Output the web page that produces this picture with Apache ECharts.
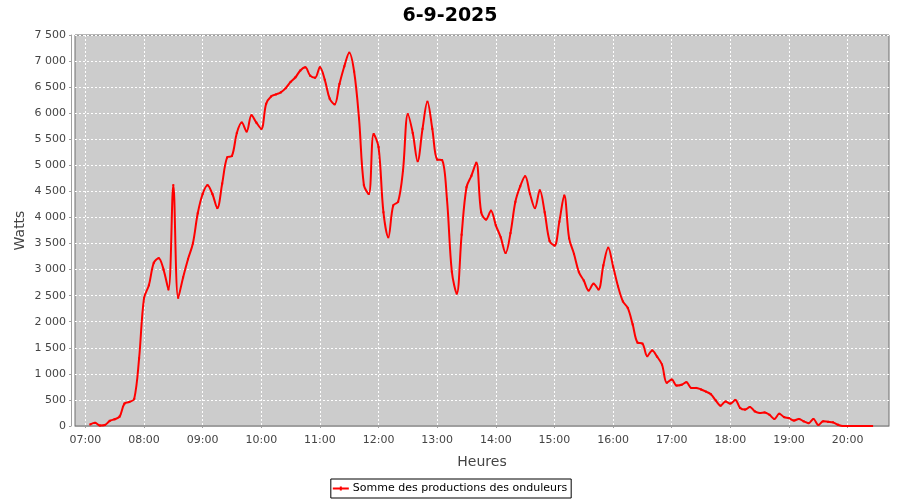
<!DOCTYPE html>
<html>
<head>
<meta charset="utf-8">
<script src="https://cdn.jsdelivr.net/npm/echarts@6/dist/echarts.min.js"></script>
<style>html,body{margin:0;padding:0;background:#fff}#c{width:900px;height:500px}</style>
</head>
<body>
<div id="c"></div>
<script>
const title = "6-9-2025";
const seriesName = "Somme des productions des onduleurs";
const hourLabels = ["07:00","08:00","09:00","10:00","11:00","12:00","13:00","14:00","15:00","16:00","17:00","18:00","19:00","20:00"];
const yTicks = [0,500,1000,1500,2000,2500,3000,3500,4000,4500,5000,5500,6000,6500,7000,7500];
const times = [
"07:05","07:10","07:15","07:20","07:25","07:30","07:35","07:40","07:45","07:50","07:55",
"08:00","08:05","08:10","08:15","08:20","08:25","08:30","08:35","08:40","08:45","08:50","08:55",
"09:00","09:05","09:10","09:15","09:20","09:25","09:30","09:35","09:40","09:45","09:50","09:55",
"10:00","10:05","10:10","10:15","10:20","10:25","10:30","10:35","10:40","10:45","10:50","10:55",
"11:00","11:05","11:10","11:15","11:20","11:25","11:30","11:35","11:40","11:45","11:50","11:55",
"12:00","12:05","12:10","12:15","12:20","12:25","12:30","12:35","12:40","12:45","12:50","12:55",
"13:00","13:05","13:10","13:15","13:20","13:25","13:30","13:35","13:40","13:45","13:50","13:55",
"14:00","14:05","14:10","14:15","14:20","14:25","14:30","14:35","14:40","14:45","14:50","14:55",
"15:00","15:05","15:10","15:15","15:20","15:25","15:30","15:35","15:40","15:45","15:50","15:55",
"16:00","16:05","16:10","16:15","16:20","16:25","16:30","16:35","16:40","16:45","16:50","16:55",
"17:00","17:05","17:10","17:15","17:20","17:25","17:30","17:35","17:40","17:45","17:50","17:55",
"18:00","18:05","18:10","18:15","18:20","18:25","18:30","18:35","18:40","18:45","18:50","18:55",
"19:00","19:05","19:10","19:15","19:20","19:25","19:30","19:35","19:40","19:45","19:50","19:55",
"20:00","20:05","20:10","20:15","20:20","20:25"
];
const watts = [
30,60,10,20,100,130,180,430,460,520,1300,
2450,2700,3130,3220,3000,2620,4620,2460,2850,3200,3500,4080,
4450,4620,4450,4180,4650,5150,5180,5620,5820,5650,5960,5820,
5700,6180,6320,6360,6400,6480,6600,6690,6820,6880,6720,6680,
6880,6640,6280,6170,6560,6900,7160,6800,5900,4620,4450,5600,
5350,4100,3620,4230,4300,4900,5980,5620,5080,5700,6220,5700,
5110,5100,4350,2960,2540,3670,4580,4800,5050,4100,3960,4130,
3850,3620,3320,3700,4300,4600,4790,4450,4180,4520,4100,3550,
3460,3920,4420,3600,3300,2950,2790,2600,2730,2620,3080,3420,
3060,2680,2390,2265,1950,1600,1580,1340,1450,1330,1180,830,
890,775,790,840,730,730,700,660,610,490,390,470,
430,500,345,315,365,280,250,260,215,135,235,170,
150,105,135,90,55,135,20,90,80,70,25,0,
0,0,0,0,0,0
];

const toMin = s => { const p = s.split(":"); return (+p[0]) * 60 + (+p[1]); };
const fmtMin = v => { const h = Math.floor(v / 60), m = Math.round(v - h * 60); return String(h).padStart(2, "0") + ":" + String(m).padStart(2, "0"); };
const hourVals = hourLabels.map(toMin);
const data = times.map((t, i) => [toMin(t), watts[i]]);
const fmtW = v => String(v).replace(/\B(?=(\d{3})+(?!\d))/g, " ");

const FONT = "DejaVu Sans";
const chart = echarts.init(document.getElementById("c"), null, { renderer: "canvas" });
chart.setOption({
  animation: false,
  backgroundColor: "#ffffff",
  title: {
    text: title, left: "center", top: 2,
    textStyle: { fontFamily: FONT, fontWeight: "bold", fontSize: 19, color: "#000" }
  },
  grid: {
    left: 75, right: 11, top: 35, bottom: 74,
    show: true, backgroundColor: "#cccccc", borderColor: "#6e6e6e", borderWidth: 1
  },
  legend: {
    data: [{ name: seriesName, icon: "path://M0,1.1h16v1.8H0z M7,0h2v4H7z" }],
    left: "center", bottom: 2,
    borderColor: "#000", borderWidth: 1, backgroundColor: "#fff",
    padding: [4, 4, 4, 2], itemWidth: 16, itemHeight: 4, itemGap: 4,
    itemStyle: { color: "#ff0000" },
    textStyle: { fontFamily: FONT, fontSize: 11, color: "#000", padding: [0, 0, 0, -1] }
  },
  xAxis: {
    type: "value", min: 409.4, max: 1242.3, offset: 3,
    name: "Heures", nameLocation: "middle", nameGap: 26, nameMoveOverlap: false,
    nameTextStyle: { fontFamily: FONT, fontSize: 14, color: "#444" },
    axisLine: { show: true, lineStyle: { color: "#a0a0a0" } },
    axisTick: { show: true, length: 2, customValues: hourVals, lineStyle: { color: "#a0a0a0" } },
    axisLabel: { customValues: hourVals, formatter: v => fmtMin(v), margin: 6, fontFamily: FONT, fontSize: 11, color: "#444" },
    splitLine: { show: true, lineStyle: { color: "#ffffff", type: [2, 2], width: 1 } }
  },
  yAxis: {
    type: "value", min: 0, max: 7500, interval: 500, offset: 4,
    name: "Watts", nameLocation: "middle", nameGap: 44, nameRotate: 90, nameMoveOverlap: false,
    nameTextStyle: { fontFamily: FONT, fontSize: 14, color: "#444" },
    axisLine: { show: true, lineStyle: { color: "#a0a0a0" } },
    axisTick: { show: true, length: 2, lineStyle: { color: "#a0a0a0" } },
    axisLabel: { formatter: v => fmtW(v), margin: 5, fontFamily: FONT, fontSize: 11, color: "#444" },
    splitLine: { show: true, lineStyle: { color: "#ffffff", type: [2, 2], width: 1 } }
  },
  series: [{
    name: seriesName, type: "line", data: data,
    smooth: 0.35, symbol: "rect", symbolSize: 2, showSymbol: true,
    lineStyle: { color: "#ff0000", width: 2 }, itemStyle: { color: "#ff0000" }
  }]
});
</script>
</body>
</html>
